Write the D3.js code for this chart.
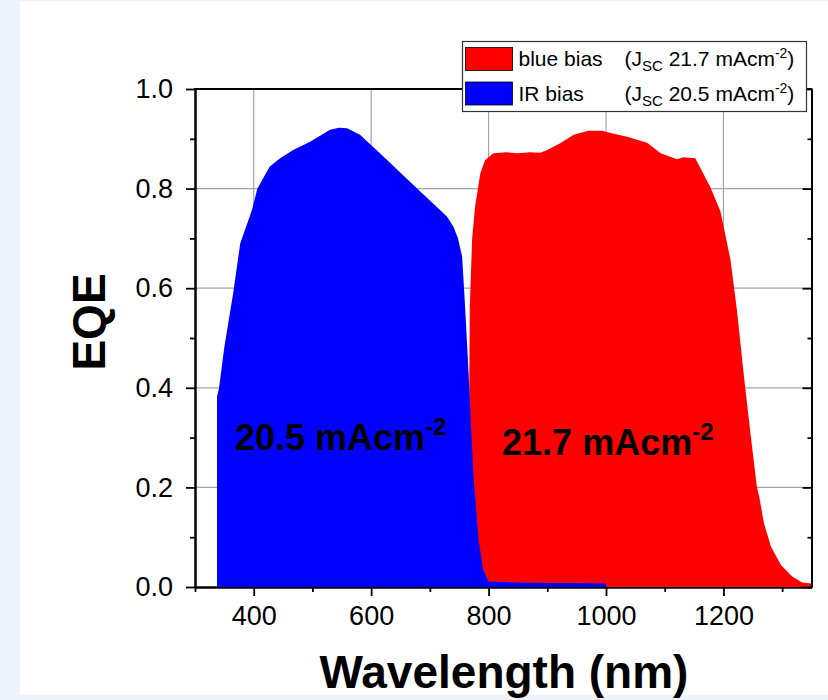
<!DOCTYPE html>
<html>
<head>
<meta charset="utf-8">
<script src="https://cdn.jsdelivr.net/npm/d3@7"></script>
<style>
  body { margin: 0; background: #eef2fa; }
  svg { display: block; font-family: "Liberation Sans", Arial, sans-serif; }
</style>
</head>
<body>
<script>
// EQE under IR bias (blue fill)
const irWavelength = [337.5, 341, 350, 365, 377, 397, 406, 427, 445, 468, 496, 530, 545, 559, 581, 615, 672, 729, 740, 748, 755, 760, 766, 774, 783, 791, 800, 850, 900, 950, 1000];
const irEqe =        [0.382, 0.40, 0.482, 0.59, 0.69, 0.757, 0.799, 0.844, 0.861, 0.878, 0.894, 0.918, 0.922, 0.921, 0.908, 0.871, 0.807, 0.744, 0.724, 0.70, 0.663, 0.563, 0.429, 0.228, 0.094, 0.034, 0.011, 0.009, 0.008, 0.008, 0.007];

// EQE under blue bias (red fill)
const blueWavelength = [765, 768, 772, 777, 786, 794, 808, 830, 850, 870, 888, 899, 922, 945, 970, 993, 1013, 1036, 1070, 1093, 1121, 1132, 1152, 1178, 1195, 1212, 1223, 1235, 1246, 1257, 1261, 1269, 1281, 1298, 1317, 1334, 1350];
const blueEqe =        [0.0, 0.56, 0.70, 0.764, 0.831, 0.857, 0.871, 0.873, 0.871, 0.873, 0.872, 0.877, 0.891, 0.908, 0.916, 0.916, 0.910, 0.904, 0.892, 0.871, 0.859, 0.863, 0.861, 0.802, 0.754, 0.657, 0.556, 0.422, 0.309, 0.201, 0.181, 0.128, 0.081, 0.044, 0.021, 0.009, 0.007];

const xMajor = [400, 600, 800, 1000, 1200];
const xMinor = [300, 500, 700, 900, 1100, 1300];
const yMajor = [0, 0.2, 0.4, 0.6, 0.8, 1.0];
const yMinor = [0.1, 0.3, 0.5, 0.7, 0.9];

const legendLabels = ["blue bias", "IR bias"];
const legendJsc = ["21.7", "20.5"];
const legendColors = ["#ff0000", "#0000ff"];

// in-plot Jsc annotations: [wavelength, EQE, text]
const notes = [[368, 0.276, "20.5 mAcm"], [823, 0.265, "21.7 mAcm"]];

const width = 828, height = 700;

const x = d3.scaleLinear().domain([300, 1350]).range([195, 811.5]);
const y = d3.scaleLinear().domain([0, 1]).range([587, 89]);

const svg = d3.select("body").append("svg")
    .attr("width", width)
    .attr("height", height);

svg.append("rect")
    .attr("width", width).attr("height", height)
    .attr("fill", "#eef2fa");
svg.append("rect")
    .attr("x", 20).attr("y", 1)
    .attr("width", width - 20).attr("height", 694)
    .attr("fill", "#ffffff");

// grid
const grid = svg.append("g").attr("stroke", "#a4a4a4").attr("stroke-width", 1.2);
grid.selectAll(".gx").data(xMajor).join("line")
    .attr("x1", d => x(d)).attr("x2", d => x(d))
    .attr("y1", y(0)).attr("y2", y(1));
grid.selectAll(".gy").data(yMajor.filter(d => d > 0 && d < 1)).join("line")
    .attr("x1", x(300)).attr("x2", x(1350))
    .attr("y1", d => y(d)).attr("y2", d => y(d));

function styleAxis(g, fontSize) {
    g.select(".domain").attr("stroke", "#000").attr("stroke-width", 2);
    g.selectAll(".tick line").attr("stroke", "#000").attr("stroke-width", 1.8);
    g.selectAll(".tick text")
        .attr("fill", "#000")
        .style("font-family", "'Liberation Sans', Arial, sans-serif")
        .style("font-size", fontSize + "px");
}

// bottom axis (drawn under the fills)
svg.append("g")
    .attr("transform", "translate(0," + y(0) + ")")
    .call(d3.axisBottom(x).tickValues(xMinor).tickSize(5).tickSizeOuter(0).tickFormat(""))
    .call(g => styleAxis(g, 27));
svg.append("g")
    .attr("transform", "translate(0," + y(0) + ")")
    .call(d3.axisBottom(x).tickValues(xMajor).tickSize(9).tickSizeOuter(0).tickPadding(10).tickFormat(d3.format("d")))
    .call(g => styleAxis(g, 27));

const area = d3.area()
    .x(d => x(d[0]))
    .y0(y(0))
    .y1(d => y(d[1]));

svg.append("path")
    .datum(d3.zip(blueWavelength, blueEqe))
    .attr("fill", "#ff0000")
    .attr("d", area);

svg.append("path")
    .datum(d3.zip(irWavelength, irEqe))
    .attr("fill", "#0000ff")
    .attr("d", area);

// left axis
svg.append("g")
    .attr("transform", "translate(" + x(300) + ",0)")
    .call(d3.axisLeft(y).tickValues(yMinor).tickSize(5).tickSizeOuter(0).tickFormat(""))
    .call(g => styleAxis(g, 27));
svg.append("g")
    .attr("transform", "translate(" + x(300) + ",0)")
    .call(d3.axisLeft(y).tickValues(yMajor).tickSize(9).tickSizeOuter(0).tickPadding(13).tickFormat(d3.format(".1f")))
    .call(g => styleAxis(g, 27));

// right axis, ticks pointing in
svg.append("g")
    .attr("transform", "translate(" + x(1350) + ",0)")
    .call(d3.axisRight(y).tickValues(yMinor).tickSize(-4).tickSizeOuter(0).tickFormat(""))
    .call(g => styleAxis(g, 27));
svg.append("g")
    .attr("transform", "translate(" + x(1350) + ",0)")
    .call(d3.axisRight(y).tickValues(yMajor).tickSize(-9).tickSizeOuter(0).tickFormat(""))
    .call(g => styleAxis(g, 27));

// top frame
svg.append("line")
    .attr("x1", x(300) - 1).attr("x2", x(1350) + 1)
    .attr("y1", y(1)).attr("y2", y(1))
    .attr("stroke", "#000").attr("stroke-width", 2);

// legend
const legend = svg.append("g").attr("transform", "translate(462.5,41.5)");
legend.append("rect")
    .attr("width", 344).attr("height", 70)
    .attr("fill", "#fff")
    .attr("stroke", "#333").attr("stroke-width", 1.2);

const rows = legend.selectAll(".row").data(legendLabels).join("g")
    .attr("transform", (d, i) => "translate(0," + (i * 34.5) + ")");
rows.append("rect")
    .attr("x", 3).attr("y", 6)
    .attr("width", 47).attr("height", 23)
    .attr("fill", (d, i) => legendColors[i])
    .attr("stroke", "#000").attr("stroke-width", 0.8);
rows.append("text")
    .attr("x", 56).attr("y", 24.5)
    .attr("font-size", 21)
    .text(d => d);
const jsc = rows.append("text")
    .attr("x", 162).attr("y", 24.5)
    .attr("font-size", 21);
jsc.append("tspan").text("(J");
jsc.append("tspan").attr("font-size", 15).attr("dy", 5).text("SC");
jsc.append("tspan").attr("dy", -5).text((d, i) => " " + legendJsc[i] + " mAcm");
jsc.append("tspan").attr("font-size", 14).attr("dy", -8).text("-2");
jsc.append("tspan").attr("dy", 8).text(")");

// Jsc annotations in plot
const note = svg.selectAll(".note").data(notes).join("text")
    .attr("x", d => x(d[0]))
    .attr("y", d => y(d[1]))
    .attr("font-size", 36)
    .attr("font-weight", "bold")
    .attr("fill", "#000");
note.append("tspan").text(d => d[2]);
note.append("tspan").attr("font-size", 24).attr("dy", -15).text("-2");

// axis titles
svg.append("text")
    .attr("x", 504).attr("y", 688)
    .attr("text-anchor", "middle")
    .attr("font-size", 46)
    .attr("font-weight", "bold")
    .text("Wavelength (nm)");

svg.append("text")
    .attr("transform", "translate(105,322) rotate(-90)")
    .attr("text-anchor", "middle")
    .attr("font-size", 46)
    .attr("font-weight", "bold")
    .text("EQE");
</script>
</body>
</html>
